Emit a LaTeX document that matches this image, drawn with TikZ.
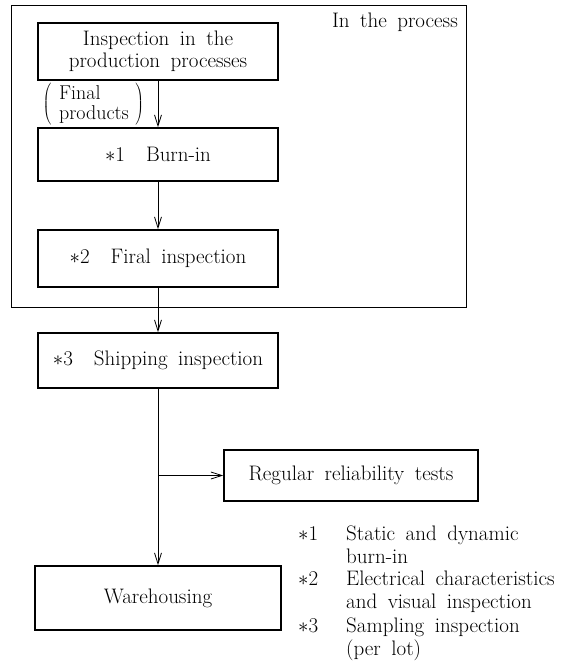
\documentclass[tikz,border=0pt]{standalone}
\usetikzlibrary{arrows.meta}
\newcommand{\bigfont}{\fontsize{21}{22}\selectfont\spaceskip=0.5em plus 0.1em\relax}
\newcommand{\notefont}{\fontsize{21}{22.5}\selectfont\spaceskip=0.5em plus 0.1em\relax}
\newcommand{\tallpar}[1]{$\left#1\vrule height 20pt depth 20pt width 0pt\right.$}
\tikzset{
  stage/.style={draw, line width=1.6pt, inner sep=0pt, align=center,
    font=\bigfont},
  flow/.style={-{Straight Barb[length=11pt,width=7pt]}, line width=0.8pt},
  note/.style={anchor=north west, inner sep=0pt, align=left,
    font=\notefont},
}
\begin{document}
\begin{tikzpicture}[x=1pt, y=-1pt]
  \useasboundingbox (0,0) rectangle (574,662);

  % In the process frame
  \draw[line width=0.8pt] (11,5) rectangle (466,307);
  \node[anchor=north east, inner sep=0pt, font=\bigfont]
    (frame) at (458,13) {In the process};

  % Stages
  \node[stage, minimum width=240pt, minimum height=57pt] (insp) at (158,51.5)
    {Inspection in the\\production processes};
  \node[stage, minimum width=240pt, minimum height=53pt] (burn) at (158,154.5)
    {$\ast$1\quad Burn-in};
  \node[stage, minimum width=240pt, minimum height=57pt] (final) at (158,258.5)
    {$\ast$2\quad Firal inspection};
  \node[stage, minimum width=240pt, minimum height=55pt] (ship) at (158,360.5)
    {$\ast$3\quad Shipping inspection};
  \node[stage, minimum width=254pt, minimum height=51pt] (rel) at (351,475.5)
    {Regular reliability tests};
  \node[stage, minimum width=246pt, minimum height=64pt] (ware) at (158,598)
    {Warehousing};

  % Final products
  \node[inner sep=0pt, align=left, font=\fontsize{20}{20}\selectfont] (prod)
    at (94,105) {Final\\products};
  \node[anchor=east, inner sep=0pt] (lpar) at ([xshift=-6pt]prod.west) {\tallpar(};
  \node[anchor=west, inner sep=0pt] (rpar) at ([xshift=6pt]prod.east) {\tallpar)};

  % Connectors
  \draw[flow] (insp) -- (burn);
  \draw[flow] (burn) -- (final);
  \draw[flow] (final) -- (ship);
  \draw[flow] (ship) -- (ware);
  \coordinate (fork) at (ship.south |- rel.west);
  \draw[flow] (fork) -- (rel);

  % Notes
  \node[note] (m1) at (298,526) {$\ast$1};
  \node[note] (n1) at (346,526) {Static and dynamic\\burn-in};
  \node[note] (m2) at (298,571) {$\ast$2};
  \node[note] (n2) at (346,571) {Electrical characteristics\\and visual inspection};
  \node[note] (m3) at (298,618) {$\ast$3};
  \node[note] (n3) at (346,618) {Sampling inspection\\(per lot)};
\end{tikzpicture}
\end{document}
